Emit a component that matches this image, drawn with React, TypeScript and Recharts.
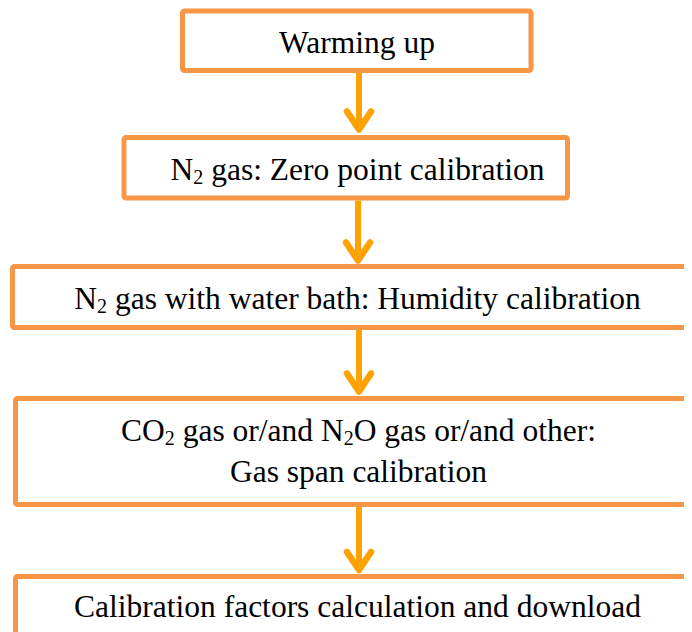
import React from 'react';
import { ComposedChart, XAxis, YAxis, ReferenceArea, ReferenceLine, Scatter } from 'recharts';

// Flowchart steps (text; "_2" marks a subscript digit)
const stepLines: string[][] = [
  ['Warming up'],
  ['N_2 gas: Zero point calibration'],
  ['N_2 gas with water bath: Humidity calibration'],
  ['CO_2 gas or/and N_2O gas or/and other:', 'Gas span calibration'],
  ['Calibration factors calculation and download'],
];
// Box extents in page units
const boxLeft = [182.5, 124, 12.5, 15.5, 15.5];
const boxRight = [531, 567.5, 702, 702, 702];
const boxTop = [11, 137.5, 266.5, 398.5, 576.5];
const boxBottom = [70.5, 198, 327.5, 504.5, 660];
// Text anchor (centre x, first baseline y)
const textX = [357, 357.5, 357.5, 358.5, 357.5];
const textBaseline = [53.3, 179.5, 309, 441, 617];
// Arrows between steps
const arrowX = [359, 358, 359, 359];
const arrowFrom = [73, 200.5, 330, 507];
const arrowTo = [131.5, 262.5, 393.5, 572];

const W = 692;
const H = 632;
const BOX_COLOR = '#F79646';
const ARROW_COLOR = '#FFA200';
const FONT_SIZE = 31.5;
const SUB_SIZE = 20;
const SUB_DY = 4.4;
const LINE_GAP = 41;
const FONT = "'Liberation Serif', monospace";

function segments(line: string) {
  return line
    .split(/_(\d)/)
    .map((t, j) => ({ t, sub: j % 2 === 1 }))
    .filter((s) => s.t.length > 0);
}

// one scatter point per text run
const textData = stepLines.flatMap((lines, i) =>
  lines.flatMap((ln, k) =>
    segments(ln).map((s, j) => ({
      x: textX[i],
      y: textBaseline[i] + k * LINE_GAP,
      line: ln,
      seg: j,
    }))
  )
);

let ctx: CanvasRenderingContext2D | null = null;
function measure(t: string, size: number): number {
  if (!t) return 0;
  if (!ctx) {
    const c = document.createElement('canvas');
    ctx = c.getContext('2d');
  }
  if (!ctx) return t.length * size * 0.45;
  ctx.font = `${size}px ${FONT}`;
  return ctx.measureText(t).width;
}

const TextShape = (p: any) => {
  if (p.cx == null || p.cy == null) return null;
  const segs = segments(p.payload.line).map((s) => ({ ...s, w: measure(s.t, s.sub ? SUB_SIZE : FONT_SIZE) }));
  const total = segs.reduce((a, s) => a + s.w, 0);
  let off = -total / 2;
  for (let j = 0; j < p.payload.seg; j++) off += segs[j].w;
  const s = segs[p.payload.seg];
  const size = s.sub ? SUB_SIZE : FONT_SIZE;
  const lead = (s.t.match(/^\s*/) || [''])[0];
  off += measure(lead, size);
  return (
    <text
      x={p.cx + off}
      y={p.cy + (s.sub ? SUB_DY : 0)}
      style={{ fontFamily: FONT, fontSize: size }}
    >
      {s.t.trim()}
    </text>
  );
};

const ArrowShape = (props: any) => {
  const { x1, y1, x2, y2 } = props;
  if ([x1, y1, x2, y2].some((v) => v == null || isNaN(v))) return null;
  return (
    <g>
      <line x1={x1} y1={y1} x2={x2} y2={y2 - 3} stroke={ARROW_COLOR} strokeWidth={6} />
      <polyline
        points={`${x2 - 12},${y2 - 20} ${x2},${y2 - 2} ${x2 + 12},${y2 - 20}`}
        fill="none"
        stroke={ARROW_COLOR}
        strokeWidth={6.5}
        strokeLinecap="round"
        strokeLinejoin="round"
      />
    </g>
  );
};

export default function App() {
  return (
    <ComposedChart
      width={W}
      height={H}
      margin={{ top: 0, right: 0, bottom: 0, left: 0 }}
      data={textData}
      style={{ marginLeft: -8, marginTop: -8 }}
    >
      <XAxis type="number" dataKey="x" domain={[0, W]} hide />
      <YAxis type="number" dataKey="y" domain={[0, H]} reversed hide />
      {stepLines.map((_, i) => (
        <ReferenceArea
          key={`box-${i}`}
          x1={boxLeft[i]}
          x2={boxRight[i]}
          y1={boxTop[i]}
          y2={boxBottom[i]}
          ifOverflow="visible"
          fill="none"
          stroke={BOX_COLOR}
          strokeWidth={5}
          radius={2}
        />
      ))}
      {arrowX.map((x, i) => (
        <ReferenceLine
          key={`arrow-${i}`}
          segment={[
            { x, y: arrowFrom[i] },
            { x, y: arrowTo[i] },
          ]}
          ifOverflow="visible"
          shape={ArrowShape}
        />
      ))}
      <Scatter data={textData} dataKey="y" shape={TextShape} isAnimationActive={false} />
    </ComposedChart>
  );
}
